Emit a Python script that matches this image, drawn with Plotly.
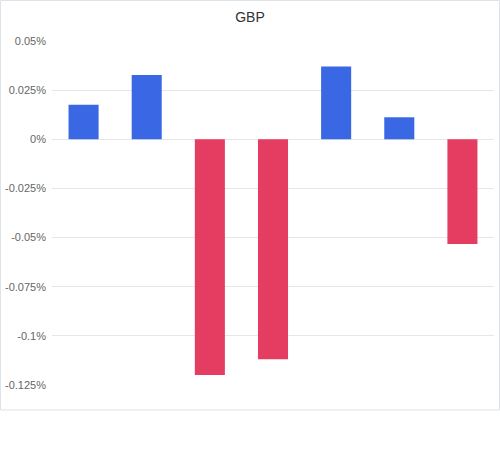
import plotly.graph_objects as go

categories = ["A", "B", "C", "D", "E", "F", "G"]
values = [0.0176, 0.0327, -0.1199, -0.1119, 0.0370, 0.0112, -0.0533]
tick_vals = [0.05, 0.025, 0, -0.025, -0.05, -0.075, -0.1, -0.125]
tick_text = ["0.05%", "0.025%", "0%", "-0.025%", "-0.05%", "-0.075%", "-0.1%", "-0.125%"]

POS = "#3A67E4"
NEG = "#E53C62"
colors = [POS if v >= 0 else NEG for v in values]

fig = go.Figure(go.Bar(x=categories, y=values, marker=dict(color=colors, line=dict(width=0)),
                       hoverinfo="skip"))

W, H = 500, 458
L, R, T, B = 52, 6, 41, 73
pw = W - L - R
ph = H - T - B

fig.update_layout(
    width=W, height=H,
    margin=dict(l=L, r=R, t=T, b=B, pad=0),
    paper_bgcolor="white", plot_bgcolor="white",
    font=dict(family="Liberation Sans, Arial, sans-serif", size=11, color="#666666"),
    title=dict(text="GBP", x=0.5, xref="container", xanchor="center",
               y=1 - 17 / H, yref="container", yanchor="middle",
               font=dict(size=14, color="#333333")),
    bargap=0.524,
    showlegend=False,
    xaxis=dict(showticklabels=False, showgrid=False, zeroline=False, showline=False, ticks=""),
    yaxis=dict(range=[-0.125, 0.05], tickvals=tick_vals, ticktext=tick_text,
               showgrid=True, gridcolor="#e6e6e6", gridwidth=1,
               zeroline=False, showline=False, ticks="", ticklabelstandoff=5),
    shapes=[dict(type="rect", xref="paper", yref="paper",
                 x0=(0.5 - L) / pw, x1=(499.5 - L) / pw,
                 y0=(H - B - 410) / ph, y1=(H - B - 0.5) / ph,
                 line=dict(color="#dde3e8", width=1), fillcolor="rgba(0,0,0,0)",
                 layer="below")],
)

fig.write_html("out.html", config={"displayModeBar": False},
               post_script="document.body.style.margin='0';document.body.style.overflow='hidden';")
